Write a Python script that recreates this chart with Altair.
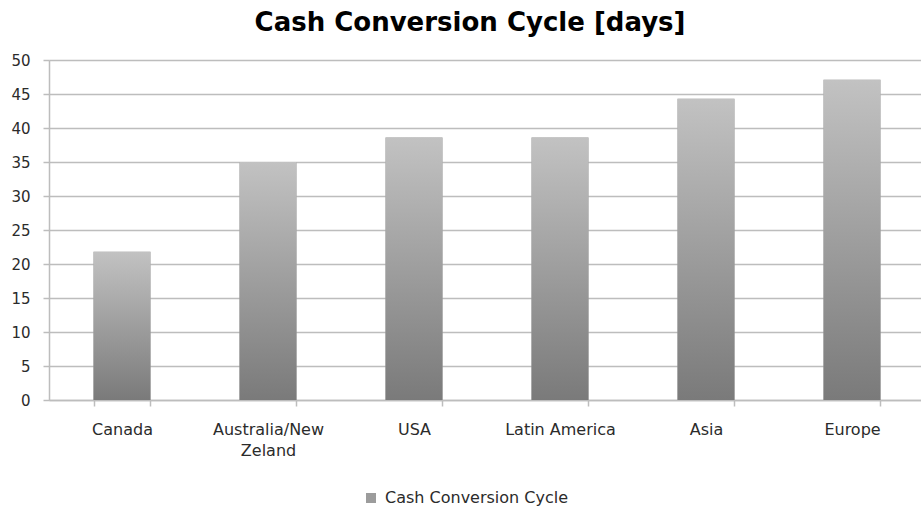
import altair as alt
import pandas as pd

regions = ["Canada", "Australia/New Zeland", "USA", "Latin America", "Asia", "Europe"]
days = [21.8, 35.0, 38.6, 38.6, 44.3, 47.1]
series_name = "Cash Conversion Cycle"
y_ticks = [0, 5, 10, 15, 20, 25, 30, 35, 40, 45, 50]

df = pd.DataFrame({"region": regions, "days": days, "series": [series_name] * len(regions)})

FONT = "DejaVu Sans"
GRID = "#bdbdbd"
TXT = "#2b2b2b"

x_enc = alt.X(
    "region:N",
    sort=regions,
    scale=alt.Scale(range=[0, 876], paddingInner=0.61, paddingOuter=0.305),
    axis=alt.Axis(
        title=None,
        labelAngle=0,
        labelFont=FONT,
        labelFontSize=16,
        labelColor=TXT,
        labelPadding=15,
        labelLineHeight=21,
        labelLimit=300,
        labelExpr="datum.label == 'Australia/New Zeland' ? ['Australia/New', 'Zeland'] : datum.label",
        tickBand="extent",
        tickColor=GRID,
        tickSize=6,
        tickWidth=1.5,
        domainColor=GRID,
        domainWidth=1.5,
        grid=False,
    ),
)
y_enc = alt.Y(
    "days:Q",
    scale=alt.Scale(domain=[0, 50], nice=False),
    axis=alt.Axis(
        title=None,
        values=y_ticks,
        labelFont=FONT,
        labelFontSize=15,
        labelColor=TXT,
        labelPadding=13,
        tickColor=GRID,
        tickSize=6,
        tickWidth=1.5,
        domainColor=GRID,
        domainWidth=1.5,
        gridColor=GRID,
        gridWidth=1.5,
    ),
)

legend_layer = alt.Chart(df).mark_bar().encode(
    x=x_enc,
    y=y_enc,
    color=alt.Color(
        "series:N",
        scale=alt.Scale(range=["#9c9c9c"]),
        legend=alt.Legend(
            title=None,
            orient="none",
            legendX=314,
            legendY=430,
            symbolType="square",
            symbolSize=100,
            symbolStrokeWidth=0,
            labelFont=FONT,
            labelFontSize=16,
            labelColor=TXT,
            labelOffset=6,
            labelLimit=400,
        ),
    ),
)

gradient_layer = alt.Chart(df).mark_bar(
    color=alt.LinearGradient(
        gradient="linear",
        stops=[
            alt.GradientStop(color="#c2c2c2", offset=0),
            alt.GradientStop(color="#7a7a7a", offset=1),
        ],
        x1=0, x2=0, y1=0, y2=1,
    )
).encode(x=x_enc, y=y_enc)

chart = (
    alt.layer(legend_layer, gradient_layer)
    .properties(
        width=872,
        height=340,
        autosize=alt.AutoSizeParams(type="none"),
        padding={"left": 49, "top": 60, "right": 0, "bottom": 109},
        title=alt.TitleParams(
            text="Cash Conversion Cycle [days]",
            font=FONT,
            fontSize=26,
            fontWeight="bold",
            color="#000000",
            anchor="middle",
            frame="group",
            baseline="alphabetic",
            offset=29,
            dx=-15,
            dy=33,
        ),
    )
    .configure_view(stroke=None)
    .configure(background="white")
)

chart.save("out.html", embed_options={"renderer": "svg", "actions": False})
